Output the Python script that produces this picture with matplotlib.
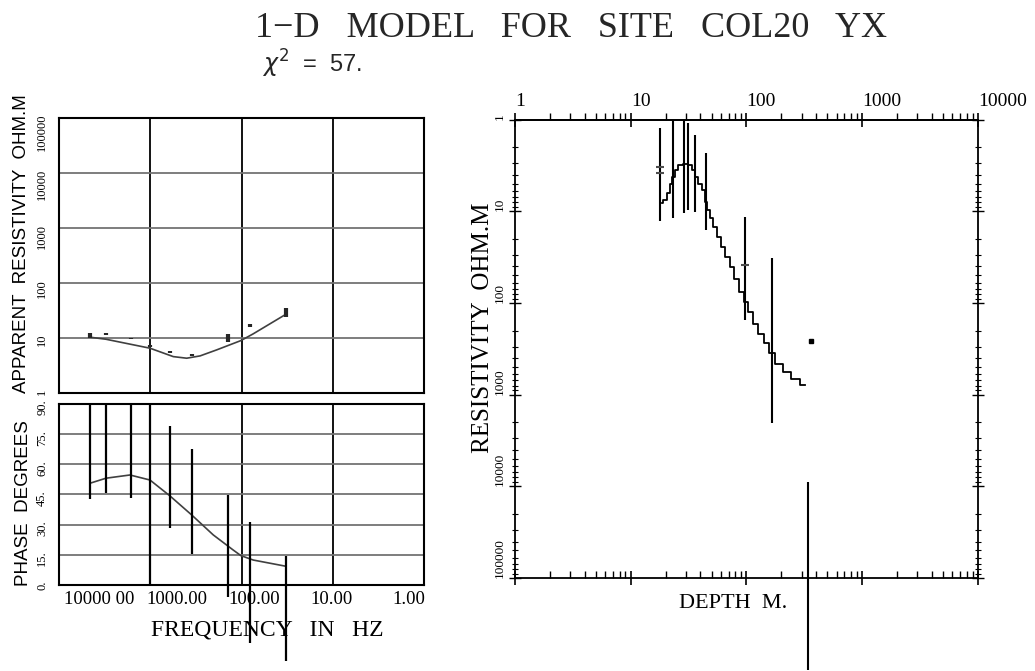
import matplotlib
matplotlib.use('Agg')
import matplotlib.pyplot as plt

# ------------------------------------------------------------
# data
# ------------------------------------------------------------
FREQ = [4605, 3076, 1637, 1013, 612, 353, 142, 81, 33]
RHO_LO = [10.0, 11.5, 9.6, 7.0, 5.4, 4.8, 8.7, 15.8, 24.7]
RHO_HI = [12.3, 12.5, 10.2, 7.6, 5.8, 5.2, 12.0, 18.0, 36.0]
PHASE_LO = [42.6, 45.6, 43.1, 0.0, 28.2, 15.4, -5.8, -29.0, -38.0]
PHASE_HI = [90.0, 90.0, 90.0, 90.0, 79.1, 67.5, 44.8, 31.5, 14.6]

RHO_MOD_FREQ = [4690, 3076, 2000, 1013, 562, 401, 286, 188, 102, 75, 33.5]
RHO_MOD = [10.5, 9.6, 8.3, 6.6, 4.64, 4.34, 4.78, 6.15, 9.08, 12.0, 26.7]
PH_MOD_FREQ = [4605, 3076, 1679, 1013, 612, 353, 205, 124, 102, 74.6, 33.5]
PH_MOD = [50.6, 53.1, 54.7, 52.2, 44.3, 34.8, 24.9, 17.4, 14.6, 12.4, 9.4]

FREQ_TICKS = [10000, 1000, 100, 10, 1]
FREQ_LABELS = ['10000 00', '1000.00', '100.00', '10.00', '1.00']
RHO_TICKS = [1, 10, 100, 1000, 10000, 100000]
PHASE_TICKS = [0, 15, 30, 45, 60, 75, 90]

# 1-D model (right panel)
DEPTH_BAR = [18.0, 23.1, 28.7, 31.3, 35.7, 44.5, 97.8, 165, 343]
RES_LO = [1.23, 1.0, 1.0, 1.1, 1.48, 2.33, 11.5, 32.5, 8950]
RES_HI = [12.9, 11.9, 10.5, 9.75, 10.2, 16.1, 154, 2035, 1000000]
DEPTH_PT = [18.0, 18.0, 97.8]
RES_PT = [3.29, 3.85, 38.8]
DOT_DEPTH = [360]
DOT_RES = [262]

MOD_DEPTH = [18.5, 19.8, 21.1, 22.2, 23.4, 24.9, 26.7, 29.5, 32.5, 34.8, 37.2,
             39.7, 42.4, 44.8, 46.9, 50.1, 53.5, 58.3, 63.1, 68.4, 74.6, 82.4,
             91.0, 99.3, 107.5, 118.7, 133, 147.6, 165.4, 189, 223, 263, 321]
MOD_RES = [8.24, 7.59, 6.41, 4.99, 4.23, 3.57, 3.15, 3.02, 3.15, 3.57, 4.23,
           4.99, 5.90, 7.92, 9.75, 12.0, 14.8, 19.1, 24.5, 31.5, 40.5, 54.2,
           75.8, 97.5, 125, 168, 216, 277, 356, 458, 565, 668, 789]

DEPTH_TICKS = [1, 10, 100, 1000, 10000]

SERIF = 'Liberation Serif'
SANS = 'Liberation Sans'

fig = plt.figure(figsize=(10.35, 6.71), dpi=100)

# ------------------------------------------------------------
# apparent resistivity
# ------------------------------------------------------------
ax1 = fig.add_axes([0.0573, 0.4139, 0.3524, 0.4098])
ax1.set_xscale('log')
ax1.set_yscale('log')
ax1.set_xlim(10000, 1)
ax1.set_ylim(1, 100000)
ax1.set_xticks(FREQ_TICKS)
ax1.set_xticklabels([])
ax1.set_yticks(RHO_TICKS)
ax1.set_yticklabels([str(t) for t in RHO_TICKS], family=SERIF, fontsize=9, rotation=90)
ax1.tick_params(which='both', length=0, pad=8)
ax1.xaxis.grid(True, color='black', lw=1.3)
ax1.yaxis.grid(True, color='0.45', lw=1.3)
ax1.plot(RHO_MOD_FREQ, RHO_MOD, color='0.25', lw=1.2)
ax1.vlines(FREQ, RHO_LO, RHO_HI, color='0.15', lw=3)
ax1.set_ylabel('APPARENT  RESISTIVITY  OHM.M', family=SANS, fontsize=13.5)
ax1.yaxis.set_label_coords(-0.08, 0.543)
for s in ax1.spines.values():
    s.set_linewidth(1.5)

# ------------------------------------------------------------
# phase
# ------------------------------------------------------------
ax2 = fig.add_axes([0.0573, 0.1282, 0.3524, 0.2697])
ax2.set_xscale('log')
ax2.set_xlim(10000, 1)
ax2.set_ylim(0, 90)
ax2.set_xticks(FREQ_TICKS)
ax2.set_xticklabels([])
ax2.set_yticks(PHASE_TICKS)
ax2.set_yticklabels([f'{t}.' for t in PHASE_TICKS], family=SERIF, fontsize=9, rotation=90)
ax2.tick_params(which='both', length=0, pad=8)
ax2.xaxis.grid(True, color='black', lw=1.3)
ax2.yaxis.grid(True, color='0.45', lw=1.3)
ax2.plot(PH_MOD_FREQ, PH_MOD, color='0.25', lw=1.2)
ax2.vlines(FREQ, PHASE_LO, PHASE_HI, color='black', lw=1.6, clip_on=False)
ax2.set_ylabel('PHASE  DEGREES', family=SANS, fontsize=13.5)
ax2.yaxis.set_label_coords(-0.075, 0.453)
for s in ax2.spines.values():
    s.set_linewidth(1.5)

# the frequency labels sit evenly spaced, not on the grid lines
for i, lab in enumerate(FREQ_LABELS):
    ax2.text(0.110 + 0.2123 * i, -0.083, lab, transform=ax2.transAxes,
             ha='center', va='center', family=SERIF, fontsize=13.5)
ax2.set_xlabel('FREQUENCY   IN   HZ', family=SERIF, fontsize=17)
ax2.xaxis.set_label_coords(0.571, -0.19)

# ------------------------------------------------------------
# 1-D model
# ------------------------------------------------------------
ax3 = fig.add_axes([0.4976, 0.1386, 0.4473, 0.6833])
ax3.set_xscale('log')
ax3.set_yscale('log')
ax3.set_xlim(1, 10000)
ax3.set_ylim(100000, 1)
ax3.set_xticks(DEPTH_TICKS)
ax3.set_xticklabels([])
ax3.set_yticks(RHO_TICKS)
ax3.set_yticklabels([str(t) for t in RHO_TICKS], family=SERIF, fontsize=9.5)
ax3.tick_params(axis='x', which='major', direction='inout', length=10, width=1.2)
ax3.tick_params(axis='x', which='minor', direction='in', length=5, width=1.0)
ax3.tick_params(axis='y', which='major', direction='inout', length=8, width=1.0,
                left=True, right=True, pad=3)
ax3.tick_params(axis='y', which='minor', direction='inout', length=4, width=0.8,
                left=True, right=True)
for lab in ax3.get_yticklabels():
    lab.set_rotation(90)
    lab.set_rotation_mode('anchor')
    lab.set_ha('left')
    lab.set_va('bottom')

top = ax3.secondary_xaxis('top')
top.set_xticks(DEPTH_TICKS)
top.set_xticklabels([str(t) for t in DEPTH_TICKS], family=SERIF, fontsize=14)
top.tick_params(which='major', direction='inout', length=10, width=1.2, pad=2)
top.tick_params(which='minor', direction='out', length=5, width=1.0)
for lab in top.get_xticklabels():
    lab.set_ha('left')
top.spines['top'].set_linewidth(1.3)

ax3.plot(MOD_DEPTH, MOD_RES, color='black', lw=1.3, drawstyle='steps-mid')
ax3.vlines(DEPTH_BAR, RES_LO, RES_HI, color='black', lw=1.5, clip_on=False)
ax3.plot(DEPTH_PT, RES_PT, ls='none', marker='_', ms=6, mew=1.5, color='0.3')
ax3.plot(DOT_DEPTH, DOT_RES, ls='none', marker='s', ms=2.5, color='black')

ax3.set_ylabel('RESISTIVITY  OHM.M', family=SERIF, fontsize=18)
ax3.yaxis.set_label_coords(-0.045, 0.545)
ax3.set_xlabel('DEPTH  M.', family=SERIF, fontsize=16)
ax3.xaxis.set_label_coords(0.471, -0.035)
for s in ax3.spines.values():
    s.set_linewidth(1.3)

# ------------------------------------------------------------
# titles
# ------------------------------------------------------------
fig.text(255 / 1035, 1 - 37 / 671, '1\u2212D   MODEL   FOR   SITE   COL20   YX',
         family=SERIF, fontsize=26, va='baseline', color='0.15')
fig.text(262 / 1035, 1 - 73 / 671, r'$\chi^2$  =  57.', family=SANS, fontsize=17,
         va='baseline', color='0.15')

plt.savefig('out.png', dpi=100)
